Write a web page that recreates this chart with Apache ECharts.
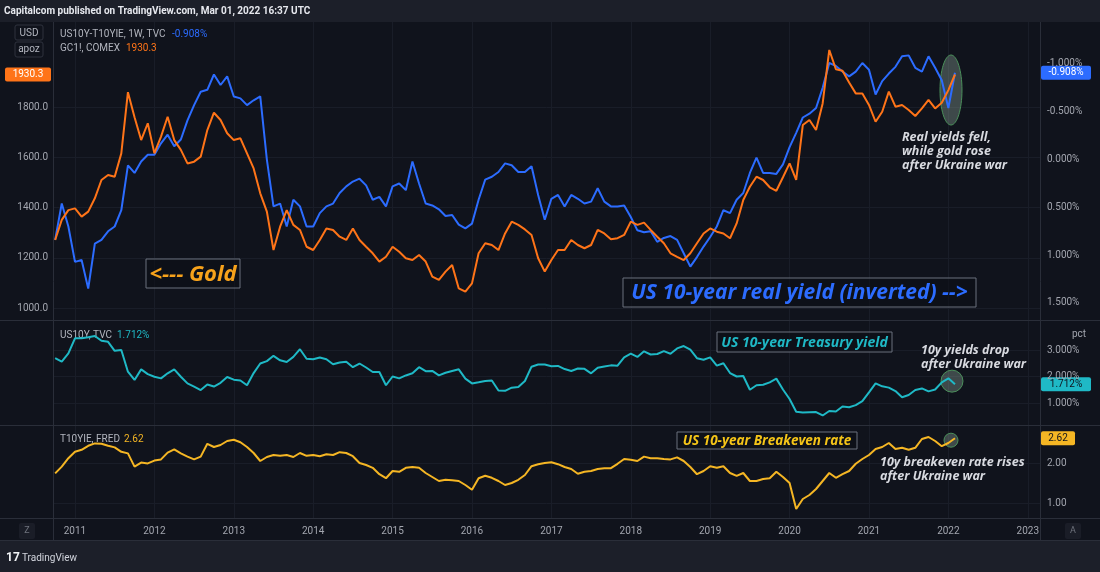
<!DOCTYPE html>
<html>
<head>
<meta charset="utf-8">
<title>Gold vs US 10-year real yield</title>
<script src="https://cdn.jsdelivr.net/npm/echarts@6/dist/echarts.min.js"></script>
<style>
	html, body { margin: 0; padding: 0; background: #10131c; }
	#chart { width: 1100px; height: 572px; }
</style>
</head>
<body>
<div id="chart"></div>
<script>
	const startYear = 2010.75
	const yearTicks = [2011, 2012, 2013, 2014, 2015, 2016, 2017, 2018, 2019, 2020, 2021, 2022, 2023]
	const goldTicks = [1000, 1200, 1400, 1600, 1800]
	const realTicks = [-1, -0.5, 0, 0.5, 1, 1.5]
	const us10yTicks = [1, 2, 3]
	const breakevenTicks = [1, 2]

	// GC1!, COMEX
	const gold = [
		1271, 1351, 1390, 1397, 1364, 1384, 1437, 1510, 1530, 1523,
		1616, 1860, 1760, 1669, 1736, 1616, 1683, 1762, 1669, 1630,
		1576, 1583, 1603, 1709, 1778, 1749, 1696, 1669, 1676, 1616,
		1556, 1457, 1384, 1231, 1324, 1390, 1331, 1311, 1244, 1231,
		1271, 1317, 1311, 1284, 1271, 1317, 1271, 1244, 1218, 1185,
		1204, 1244, 1224, 1198, 1191, 1211, 1185, 1125, 1112, 1145,
		1171, 1078, 1065, 1098, 1218, 1258, 1251, 1231, 1297, 1344,
		1331, 1313, 1291, 1198, 1145, 1191, 1231, 1231, 1271, 1251,
		1238, 1251, 1311, 1297, 1274, 1278, 1291, 1344, 1331, 1340,
		1311, 1284, 1258, 1218, 1204, 1191, 1218, 1258, 1297, 1317,
		1304, 1297, 1278, 1337, 1430, 1483, 1523, 1510, 1481, 1467,
		1521, 1576, 1510, 1729, 1749, 1709, 1815, 2028, 1951, 1945,
		1898, 1855, 1855, 1809, 1742, 1782, 1862, 1802, 1809, 1789,
		1765, 1795, 1829, 1795, 1818, 1868, 1930.3
	]

	// US10Y-T10YIE, 1W, TVC (plotted inverted)
	const realYield = [
		0.84, 0.46, 0.70, 1.07, 1.05, 1.35, 0.88, 0.84, 0.75, 0.70,
		0.53, 0.06, 0.14, 0.02, -0.05, -0.05, -0.17, -0.26, -0.14, -0.21,
		-0.41, -0.57, -0.71, -0.73, -0.89, -0.78, -0.87, -0.66, -0.64, -0.57,
		-0.62, -0.66, 0.00, 0.49, 0.46, 0.70, 0.42, 0.49, 0.70, 0.70,
		0.56, 0.49, 0.46, 0.35, 0.28, 0.23, 0.20, 0.27, 0.42, 0.39,
		0.49, 0.28, 0.25, 0.32, 0.02, 0.25, 0.46, 0.48, 0.52, 0.59,
		0.58, 0.68, 0.72, 0.67, 0.42, 0.21, 0.18, 0.13, 0.04, 0.06,
		0.13, 0.13, 0.07, 0.37, 0.63, 0.41, 0.37, 0.49, 0.37, 0.41,
		0.46, 0.44, 0.30, 0.44, 0.49, 0.49, 0.48, 0.60, 0.74, 0.76,
		0.75, 0.86, 0.82, 0.80, 0.84, 0.98, 1.12, 1.02, 0.91, 0.81,
		0.70, 0.53, 0.56, 0.42, 0.35, 0.14, -0.02, 0.14, 0.14, 0.15,
		0.05, -0.13, -0.28, -0.44, -0.48, -0.54, -0.75, -1.01, -0.98, -0.92,
		-0.87, -0.92, -1.01, -0.94, -0.68, -0.82, -0.90, -0.97, -1.08, -1.09,
		-0.96, -0.92, -1.08, -0.96, -0.83, -0.54, -0.908
	]

	// US10Y, TVC
	const us10y = [
		2.69, 2.56, 2.87, 3.44, 3.44, 3.48, 3.53, 3.35, 3.31, 2.97,
		3.00, 2.18, 1.87, 2.27, 2.09, 1.99, 1.93, 2.12, 2.27, 1.99,
		1.74, 1.62, 1.49, 1.70, 1.62, 1.76, 1.98, 1.88, 1.85, 1.67,
		2.13, 2.49, 2.58, 2.78, 2.61, 2.55, 2.74, 3.03, 2.67, 2.65,
		2.72, 2.65, 2.46, 2.53, 2.56, 2.35, 2.49, 2.34, 2.17, 2.17,
		1.67, 2.00, 1.93, 2.04, 2.12, 2.35, 2.20, 2.21, 2.04, 2.14,
		2.21, 2.27, 1.92, 1.74, 1.78, 1.83, 1.85, 1.47, 1.46, 1.58,
		1.60, 1.83, 2.37, 2.45, 2.45, 2.39, 2.40, 2.28, 2.21, 2.30,
		2.29, 2.12, 2.33, 2.38, 2.42, 2.41, 2.72, 2.86, 2.74, 2.95,
		2.83, 2.85, 2.96, 2.86, 3.06, 3.15, 3.01, 2.69, 2.63, 2.72,
		2.41, 2.50, 2.13, 2.00, 2.02, 1.50, 1.67, 1.69, 1.78, 1.92,
		1.51, 1.15, 0.67, 0.64, 0.65, 0.66, 0.53, 0.70, 0.68, 0.87,
		0.84, 0.92, 1.07, 1.40, 1.74, 1.63, 1.58, 1.45, 1.22, 1.30,
		1.49, 1.55, 1.44, 1.51, 1.78, 1.93, 1.712
	]

	// T10YIE, FRED
	const breakeven = [
		1.74, 1.91, 2.12, 2.28, 2.33, 2.43, 2.49, 2.48, 2.43, 2.39,
		2.28, 2.24, 1.91, 2.01, 1.99, 2.06, 2.09, 2.26, 2.34, 2.24,
		2.16, 2.09, 2.16, 2.48, 2.40, 2.45, 2.55, 2.58, 2.52, 2.40,
		2.25, 2.05, 2.15, 2.20, 2.18, 2.20, 2.15, 2.25, 2.18, 2.20,
		2.17, 2.22, 2.20, 2.27, 2.25, 2.17, 2.00, 1.95, 1.88, 1.72,
		1.62, 1.80, 1.78, 1.88, 1.90, 1.88, 1.75, 1.65, 1.55, 1.58,
		1.57, 1.55, 1.45, 1.33, 1.62, 1.68, 1.63, 1.55, 1.45, 1.50,
		1.58, 1.70, 1.92, 1.97, 2.00, 2.02, 1.97, 1.90, 1.85, 1.73,
		1.78, 1.80, 1.85, 1.87, 1.87, 1.98, 2.10, 2.08, 2.05, 2.16,
		2.12, 2.12, 2.10, 2.09, 2.14, 2.05, 1.90, 1.72, 1.80, 1.92,
		1.88, 1.92, 1.75, 1.68, 1.75, 1.55, 1.55, 1.60, 1.62, 1.78,
		1.65, 1.50, 0.85, 1.10, 1.20, 1.35, 1.55, 1.75, 1.63, 1.72,
		1.80, 1.98, 2.10, 2.20, 2.35, 2.40, 2.50, 2.35, 2.38, 2.33,
		2.38, 2.60, 2.65, 2.55, 2.42, 2.50, 2.62
	]

	const months = gold.map((_, i) => startYear + i / 12)
	const pairs = values => values.map((v, i) => [months[i], v])
	const last = values => values[values.length - 1]

	const gridLine = '#191d28'
	const labelColor = '#a3a6af'
	const font = 'Roboto, "Noto Sans", sans-serif'

	const chart = echarts.init(document.getElementById('chart'), null, { renderer: 'canvas' })

	function xAxis(gridIndex) {
		return {
			type: 'value',
			gridIndex: gridIndex,
			min: 2010.723,
			max: 2023.154,
			axisLine: { show: gridIndex === 2, lineStyle: { color: '#2a2e39' } },
			axisTick: { show: false, customValues: yearTicks },
			axisLabel: {
				show: gridIndex === 2,
				customValues: yearTicks,
				color: labelColor,
				fontSize: 10,
				margin: 8,
				formatter: v => String(Math.round(v))
			},
			splitLine: { show: true, lineStyle: { color: gridLine } }
		}
	}

	function yAxis(opts) {
		return Object.assign({
			type: 'value',
			position: 'right',
			axisLine: { show: false },
			axisTick: { show: false, customValues: opts.ticks },
			axisLabel: {
				customValues: opts.ticks,
				color: labelColor,
				fontSize: 10,
				margin: 7,
				formatter: opts.format
			},
			splitLine: { show: opts.split !== false, lineStyle: { color: gridLine } }
		}, opts.extra)
	}

	chart.setOption({
		backgroundColor: '#10131c',
		animation: false,
		textStyle: { fontFamily: font },
		grid: [
			{ left: 53, right: 60, top: 22, height: 298 },
			{ left: 53, right: 60, top: 320, height: 105 },
			{ left: 53, right: 60, top: 425, height: 93 }
		],
		xAxis: [xAxis(0), xAxis(1), xAxis(2)],
		yAxis: [
			yAxis({
				ticks: goldTicks,
				format: v => v.toFixed(1),
				extra: { gridIndex: 0, position: 'left', min: 952.2, max: 2139.4, axisLabel: {
					customValues: goldTicks, color: labelColor, fontSize: 10, margin: 5,
					formatter: v => v.toFixed(1)
				} }
			}),
			yAxis({
				ticks: realTicks,
				split: false,
				format: v => v.toFixed(3) + '%',
				extra: { gridIndex: 0, inverse: true, min: -1.439, max: 1.678 }
			}),
			yAxis({
				ticks: us10yTicks,
				format: v => v.toFixed(3) + '%',
				extra: { gridIndex: 1, min: 0.17, max: 4.132 }
			}),
			yAxis({
				ticks: breakevenTicks,
				format: v => v.toFixed(2),
				extra: { gridIndex: 2, min: 0.625, max: 2.95 }
			})
		],
		series: [
			{
				name: 'US10Y-T10YIE',
				type: 'line',
				xAxisIndex: 0,
				yAxisIndex: 1,
				showSymbol: false,
				lineStyle: { color: '#2c6cff', width: 2 },
				data: pairs(realYield)
			},
			{
				name: 'GC1!',
				type: 'line',
				xAxisIndex: 0,
				yAxisIndex: 0,
				showSymbol: false,
				lineStyle: { color: '#ff7418', width: 2 },
				data: pairs(gold)
			},
			{
				name: 'US10Y',
				type: 'line',
				xAxisIndex: 1,
				yAxisIndex: 2,
				showSymbol: false,
				lineStyle: { color: '#1fb9c6', width: 2 },
				data: pairs(us10y)
			},
			{
				name: 'T10YIE',
				type: 'line',
				xAxisIndex: 2,
				yAxisIndex: 3,
				showSymbol: false,
				lineStyle: { color: '#f5b624', width: 2 },
				data: pairs(breakeven)
			}
		]
	})

	// price tags on the axes, placed at the last values
	function tag(x, y, w, text, bg, fg) {
		return {
			type: 'group',
			children: [
				{ type: 'rect', shape: { x: x, y: y - 7, width: w, height: 14, r: 2 }, style: { fill: bg } },
				{ type: 'text', x: x + w / 2, y: y, style: { text: text, fill: fg, font: '10px ' + font, align: 'center', verticalAlign: 'middle' } }
			]
		}
	}

	function label(x, y, text, color, size, align) {
		return {
			type: 'text', x: x, y: y,
			style: { text: text, fill: color, font: (size || '10px') + ' ' + font, align: align || 'left', verticalAlign: 'middle' }
		}
	}

	function box(x, y, w, h, text, color, fontSize) {
		return {
			type: 'group',
			children: [
				{ type: 'rect', shape: { x: x, y: y, width: w, height: h }, style: { fill: 'rgba(12,15,22,0.6)', stroke: '#6b707c', lineWidth: 1 } },
				{ type: 'text', x: x + w / 2, y: y + h / 2 + 1, style: {
					text: text, fill: color, align: 'center', verticalAlign: 'middle',
					font: 'italic bold ' + fontSize + 'px "Open Sans", sans-serif'
				} }
			]
		}
	}

	function note(x, y, text) {
		return {
			type: 'text', x: x, y: y,
			style: { text: text, fill: '#d8dae0', lineHeight: 14, font: 'italic bold 12.5px "Open Sans", sans-serif' }
		}
	}

	const goldY = chart.convertToPixel({ yAxisIndex: 0 }, last(gold))
	const realY = chart.convertToPixel({ yAxisIndex: 1 }, last(realYield))
	const us10yY = chart.convertToPixel({ yAxisIndex: 2 }, last(us10y))
	const breakevenY = chart.convertToPixel({ yAxisIndex: 3 }, last(breakeven))
	const endX = chart.convertToPixel({ xAxisIndex: 0 }, last(months))

	const sep = '#2a2e39'
	const line = (x1, y1, x2, y2) => ({ type: 'line', shape: { x1: x1, y1: y1, x2: x2, y2: y2 }, style: { stroke: sep, lineWidth: 1 }, z: 1 })
	const button = (x, y, w, h, fill, stroke) => ({ type: 'rect', shape: { x: x, y: y, width: w, height: h, r: 2 }, style: { fill: fill, stroke: stroke } })
	const mark = { fill: 'rgba(150,175,160,0.35)', stroke: '#4a8f5a', lineWidth: 1 }

	chart.setOption({
		graphic: [
			// header and footer strips
			{ type: 'rect', shape: { x: 0, y: 0, width: 1100, height: 22 }, style: { fill: '#1c1f29' } },
			label(4, 11, 'Capitalcom published on TradingView.com, Mar 01, 2022 16:37 UTC', '#e6e8ee', 'bold 10px'),
			{ type: 'rect', shape: { x: 0, y: 541, width: 1100, height: 31 }, style: { fill: '#1c1f29' } },
			label(6, 558, '17', '#f0f2f5', 'bold 12px'),
			label(22, 558, 'TradingView', '#d1d4dc', '10px'),

			// pane separators
			line(0, 320.5, 1100, 320.5),
			line(0, 425.5, 1100, 425.5),
			line(0, 518.5, 1100, 518.5),
			line(0, 540.5, 1100, 540.5),
			line(53.5, 22, 53.5, 541),
			line(1040.5, 22, 1040.5, 541),

			// corner buttons of the time scale
			button(19, 523, 16, 16, '#1a1d27', 'none'),
			label(27, 531, 'Z', '#6f737d', '9px', 'center'),
			button(1065, 523, 16, 16, '#1a1d27', 'none'),
			label(1073, 531, 'A', '#6f737d', '9px', 'center'),

			// currency / scale buttons
			button(15, 25, 28, 15, 'none', '#2e323d'),
			label(29, 33, 'USD', '#b2b5be', '10px', 'center'),
			button(15, 42, 28, 15, 'none', '#2e323d'),
			label(29, 49, 'apoz', '#b2b5be', '10px', 'center'),

			// pane legends
			label(60, 34, 'US10Y-T10YIE, 1W, TVC', '#b2b5be'),
			label(172, 34, '-0.908%', '#2c6cff'),
			label(60, 48, 'GC1!, COMEX', '#b2b5be'),
			label(126, 48, '1930.3', '#ff7418'),
			label(60, 335, 'US10Y, TVC', '#b2b5be'),
			label(117, 335, '1.712%', '#1fb9c6'),
			label(60, 439, 'T10YIE, FRED', '#b2b5be'),
			label(124, 439, '2.62', '#f5b624'),
			label(1079, 334, 'pct', '#a3a6af', '10px', 'center'),

			// annotations
			box(146, 259, 94, 29, '<--- Gold', '#f7a21b', 22),
			box(623, 278, 353, 29, 'US 10-year real yield (inverted) -->', '#2c6cff', 21),
			box(717, 332, 175, 20, 'US 10-year Treasury yield', '#1fb9c6', 14),
			box(677, 432, 180, 17, 'US 10-year Breakeven rate', '#f5c518', 13.5),
			note(902, 130, 'Real yields fell,\nwhile gold rose\nafter Ukraine war'),
			note(921, 343, '10y yields drop\nafter Ukraine war'),
			note(880, 455, '10y breakeven rate rises\nafter Ukraine war'),

			// highlight circles around the last weeks
			{ type: 'ellipse', shape: { cx: endX - 4, cy: 90, rx: 11, ry: 35 }, style: mark },
			{ type: 'circle', shape: { cx: endX - 3, cy: us10yY - 3, r: 11 }, style: mark },
			{ type: 'circle', shape: { cx: endX - 4, cy: breakevenY + 2, r: 7 }, style: mark },

			// last value tags
			tag(5, goldY, 46, '1930.3', '#ff7418', '#ffffff'),
			tag(1041, realY, 50, '-0.908%', '#2c6cff', '#ffffff'),
			tag(1041, us10yY, 50, '1.712%', '#1fb9c6', '#10131c'),
			tag(1041, breakevenY, 34, '2.62', '#f5b624', '#10131c')
		]
	})

	window.addEventListener('resize', () => {
		chart.resize()
	})
</script>
</body>
</html>
